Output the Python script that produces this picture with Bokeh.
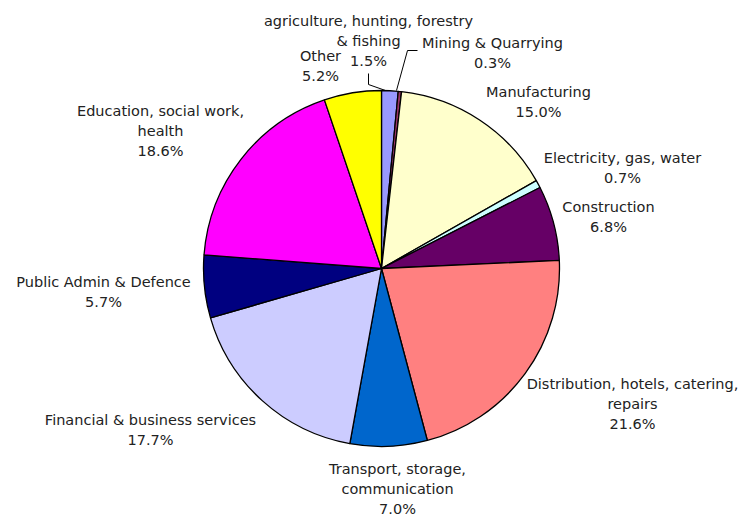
import math
from bokeh.plotting import figure
from bokeh.models import Range1d, ColumnDataSource
from bokeh.embed import file_html
from bokeh.resources import INLINE
from bokeh.core.properties import value

# ---- data ----
sectors = [
    "agriculture, hunting, forestry\n& fishing",
    "Mining & Quarrying",
    "Manufacturing",
    "Electricity, gas, water",
    "Construction",
    "Distribution, hotels, catering,\nrepairs",
    "Transport, storage,\ncommunication",
    "Financial & business services",
    "Public Admin & Defence",
    "Education, social work,\nhealth",
    "Other",
]
shares = [1.5, 0.3, 15.0, 0.7, 6.8, 21.6, 7.0, 17.7, 5.7, 18.6, 5.2]
colors = ["#9999FF", "#993366", "#FFFFCC", "#CCFFFF", "#660066", "#FF8080",
          "#0066CC", "#CCCCFF", "#000080", "#FF00FF", "#FFFF00"]

# ---- layout (picture pixels) ----
W, H = 741, 516
def Y(py):
    return H - py

cx, cy, R = 381, Y(268), 178
label_pos = [(368, 20), (492, 42), (538, 91), (622, 157), (608, 206), (632, 383),
             (397, 468), (150, 419), (103, 281), (160, 110), (320, 55)]
LINE_H = 20

p = figure(width=W, height=H, output_backend="svg", toolbar_location=None,
           x_range=Range1d(0, W), y_range=Range1d(0, H),
           min_border=0)
p.axis.visible = False
p.grid.visible = False
p.outline_line_color = None
p.background_fill_color = "white"
p.border_fill_color = "white"

total = sum(shares)
starts, ends = [], []
acc = 0.0
for s in shares:
    starts.append(math.pi / 2 - acc / total * 2 * math.pi)
    acc += s
    ends.append(math.pi / 2 - acc / total * 2 * math.pi)

src = ColumnDataSource(dict(start=starts, end=ends, color=colors))
p.wedge(x=cx, y=cy, radius=R, start_angle="start", end_angle="end",
        direction="clock", fill_color="color", line_color="black",
        line_width=1.3, source=src)

# labels
xs, ys, txt = [], [], []
for name, sh, (lx, ly) in zip(sectors, shares, label_pos):
    lines = name.split("\n") + [f"{sh:.1f}%"]
    for i, ln in enumerate(lines):
        xs.append(lx)
        ys.append(Y(ly + i * LINE_H))
        txt.append(ln)
p.text(x=xs, y=ys, text=txt, text_align="center", text_baseline="middle",
       text_font=value("DejaVu Sans"), text_font_size="14.5px", text_color="#222222")

# leader lines
p.line(x=[368, 368, 385], y=[Y(73), Y(84), Y(90)], line_color="black", line_width=1)
p.line(x=[417, 407, 396], y=[Y(50), Y(50), Y(90)], line_color="black", line_width=1)

open("out.html", "w").write(file_html(p, INLINE))
